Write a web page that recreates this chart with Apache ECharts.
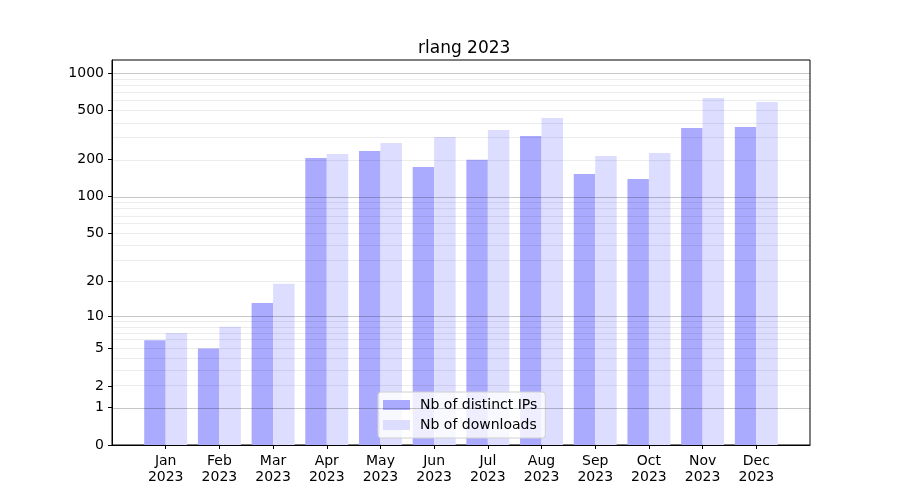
<!DOCTYPE html>
<html><head><meta charset="utf-8">
<script src="https://cdn.jsdelivr.net/npm/echarts@6/dist/echarts.min.js"></script>
<style>html,body{margin:0;padding:0;background:#fff}#c{width:900px;height:500px}</style>
</head><body><div id="c"></div>
<script>
const months = ['Jan','Feb','Mar','Apr','May','Jun','Jul','Aug','Sep','Oct','Nov','Dec'];
const year = '2023';
const distinctIPs = [6, 5, 13, 206, 235, 174, 199, 311, 153, 139, 361, 368];
const downloads  = [7, 8, 19, 222, 273, 305, 348, 435, 214, 226, 631, 586];
const yTicks = [0, 1, 2, 5, 10, 20, 50, 100, 200, 500, 1000];
const majorGrid = [1, 10, 100, 1000];
const minorGrid = [2,3,4,5,6,7,8,9,20,30,40,50,60,70,80,90,200,300,400,500,600,700,800,900];
const yMaxValue = 1278;

const tf = v => Math.log10(1 + v);
const labelMap = {};
yTicks.forEach(t => { labelMap[tf(t).toFixed(6)] = String(t); });

const cats = [''].concat(months.map(m => m + '\n' + year)).concat(['']);
const pad = arr => [null].concat(arr.map(tf)).concat([null]);
const font = 'DejaVu Sans';

const gridLines = majorGrid.map(v => ({yAxis: tf(v), lineStyle: {color: 'rgba(0,0,0,0.22)', width: 1, type: 'solid'}}))
  .concat(minorGrid.map(v => ({yAxis: tf(v), lineStyle: {color: 'rgba(0,0,0,0.075)', width: 1, type: 'solid'}})));

const chart = echarts.init(document.getElementById('c'), null, {renderer: 'canvas'});
chart.setOption({
  animation: false,
  backgroundColor: '#fff',
  textStyle: {fontFamily: font},
  title: {text: 'rlang 2023', left: 413, top: 35, textStyle: {fontFamily: font, fontSize: 17, fontWeight: 'normal', color: '#000'}},
  grid: {left: 112, right: 90, top: 60, bottom: 55, show: true, borderColor: '#000', borderWidth: 1, backgroundColor: 'transparent'},
  legend: {
    orient: 'vertical', left: 378, top: 392,
    data: ['Nb of distinct IPs', 'Nb of downloads'],
    icon: 'rect', itemWidth: 27, itemHeight: 10, itemGap: 6,
    backgroundColor: 'rgba(255,255,255,0.8)', borderColor: '#d0d0d0', borderWidth: 1, borderRadius: 3,
    padding: [6, 8, 6, 5],
    textStyle: {fontFamily: font, fontSize: 14, color: '#000', padding: [0,0,0,5]}
  },
  xAxis: {
    type: 'category', data: cats, boundaryGap: false,
    axisLine: {show: true, lineStyle: {color: '#000'}},
    axisTick: {show: true, length: 4, interval: (i) => i > 0 && i < cats.length - 1, lineStyle: {color: '#000'}},
    axisLabel: {interval: (i) => i > 0 && i < cats.length - 1, color: '#000', fontSize: 14, fontFamily: font, lineHeight: 16, margin: 8},
    splitLine: {show: false}
  },
  yAxis: {
    type: 'value', min: 0, max: tf(yMaxValue),
    axisLine: {show: true, lineStyle: {color: '#000'}},
    axisTick: {show: true, length: 4, customValues: yTicks.map(tf), lineStyle: {color: '#000'}},
    axisLabel: {customValues: yTicks.map(tf), color: '#000', fontSize: 14, fontFamily: font, margin: 8,
      formatter: v => labelMap[v.toFixed(6)] !== undefined ? labelMap[v.toFixed(6)] : String(Math.round(Math.pow(10, v) - 1))},
    splitLine: {show: false}
  },
  series: [
    {name: 'Nb of distinct IPs', type: 'bar', data: pad(distinctIPs), barWidth: '40%', barGap: '0%',
      itemStyle: {color: '#aaaaff'}},
    {name: 'Nb of downloads', type: 'bar', data: pad(downloads), barWidth: '40%', barGap: '0%',
      itemStyle: {color: '#ddddff'}},
    {name: 'grid', type: 'line', data: [], silent: true, z: 5,
      markLine: {silent: true, symbol: ['none','none'], label: {show: false}, animation: false, data: gridLines}}
  ]
});
</script></body></html>
